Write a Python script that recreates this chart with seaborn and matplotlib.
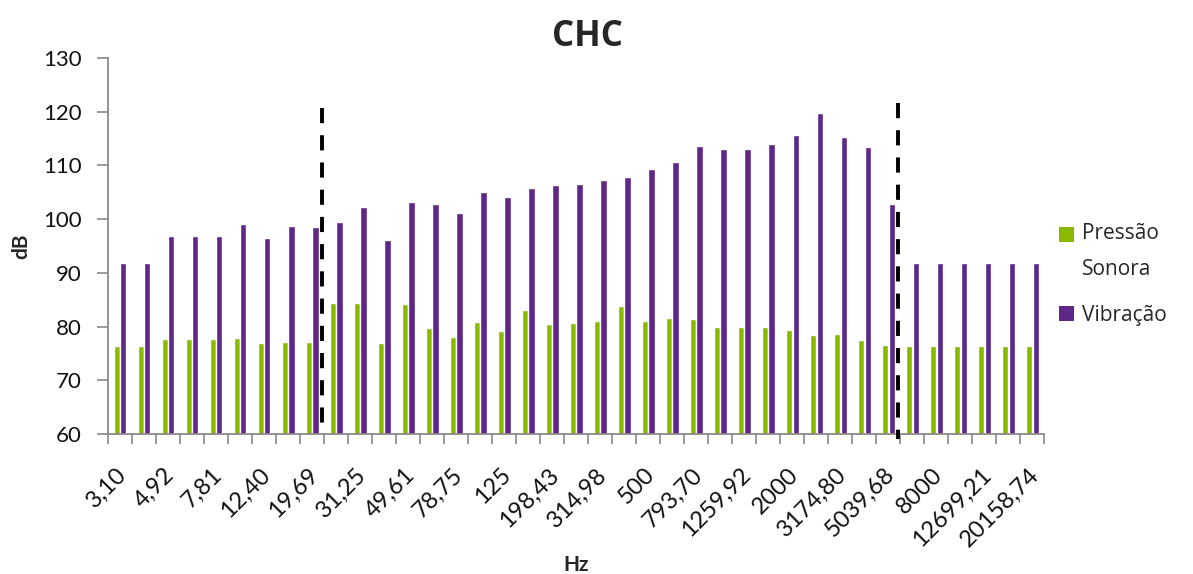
import matplotlib
matplotlib.use("Agg")
import matplotlib.pyplot as plt
import seaborn as sns
import pandas as pd
from matplotlib.patches import Patch, Rectangle
from matplotlib.legend_handler import HandlerPatch
from matplotlib.transforms import ScaledTranslation

freq_labels = ["3,10", "3,91", "4,92", "6,20", "7,81", "9,84", "12,40", "15,62", "19,69",
               "24,80", "31,25", "39,37", "49,61", "62,50", "78,75", "99,21", "125", "157,49",
               "198,43", "250", "314,98", "396,85", "500", "629,96", "793,70", "1000", "1259,92",
               "1587,40", "2000", "2519,84", "3174,80", "4000", "5039,68", "6349,60", "8000",
               "10079,37", "12699,21", "16000", "20158,74"]

pressao = [76.4, 76.4, 77.6, 77.6, 77.6, 77.9, 76.9, 77.1, 77.1,
           84.3, 84.3, 76.9, 84.2, 79.7, 78.1, 80.9, 79.1, 83.1, 80.4, 80.6,
           81.0, 83.8, 81.0, 81.5, 81.4, 79.9, 79.9, 80.0, 79.3, 78.4, 78.7, 77.4, 76.5,
           76.4, 76.4, 76.4, 76.4, 76.4, 76.4]

vibracao = [91.9, 91.9, 96.9, 96.9, 96.9, 99.0, 96.4, 98.7, 98.6,
            99.4, 102.3, 96.1, 103.1, 102.9, 101.2, 105.1, 104.1, 105.7, 106.4, 106.6,
            107.2, 107.8, 109.4, 110.7, 113.7, 113.0, 113.0, 113.9, 115.7, 119.7, 115.3, 113.4, 102.9,
            91.9, 91.9, 91.9, 91.9, 91.9, 91.9]

series_names = ["Pressão Sonora", "Vibração"]
legend_labels = ["Pressão\nSonora", "Vibração"]
colors = ["#8AB800", "#5F2788"]
yticks = [60, 70, 80, 90, 100, 110, 120, 130]
divider_x = [8.4, 32.4]

df = pd.DataFrame({
    "Hz": freq_labels * 2,
    "dB": pressao + vibracao,
    "serie": [series_names[0]] * len(freq_labels) + [series_names[1]] * len(freq_labels),
})

sns.set_theme(style="white")
plt.rcParams["font.family"] = ["Lato", "DejaVu Sans"]

fig = plt.figure(figsize=(11.93, 5.74), dpi=100)
ax = fig.add_axes([0.0905, 0.244, 0.785, 0.655])

sns.barplot(data=df, x="Hz", y="dB", hue="serie", order=freq_labels,
            hue_order=series_names, palette=colors, width=0.55, gap=0.05,
            saturation=1, ax=ax, legend=False)

n = len(freq_labels)
ax.set_xlim(-0.5, n - 0.5)
ax.set_ylim(60, 130)
ax.set_yticks(yticks)
ax.set_yticklabels([str(v) for v in yticks], fontsize=16, color="#111111")
ax.tick_params(axis="y", which="major", direction="out", length=8, width=1.2,
               color="#8a8a8a", left=True, pad=11)

ax.set_xticks(list(range(0, n, 2)))
ax.set_xticklabels([freq_labels[i] for i in range(0, n, 2)], rotation=45,
                   ha="right", va="center", rotation_mode="anchor",
                   fontsize=17, color="#111111")
ax.set_xticks([i - 0.5 for i in range(n + 1)], minor=True)
ax.tick_params(axis="x", which="major", length=0, pad=27)
ax.tick_params(axis="x", which="minor", direction="out", length=7, width=1.2,
               color="#8a8a8a", bottom=True)
shift = ScaledTranslation(3 / 100, 0, fig.dpi_scale_trans)
for lbl in ax.get_xticklabels():
    lbl.set_transform(lbl.get_transform() + shift)

for s in ["top", "right"]:
    ax.spines[s].set_visible(False)
for s in ["left", "bottom"]:
    ax.spines[s].set_color("#8a8a8a")
    ax.spines[s].set_linewidth(1.3)

ax.set_xlabel("Hz", fontsize=15, fontweight="bold")
ax.set_ylabel("dB", fontsize=15, fontweight="bold")
ax.xaxis.set_label_coords(0.5, -0.322)
ax.yaxis.set_label_coords(-0.082, 0.5)
fig.text(0.492, 0.936, "CHC", fontsize=25, fontweight="bold", ha="center", va="center",
         fontfamily=["Open Sans", "DejaVu Sans"])

ax.plot([divider_x[0], divider_x[0]], [120.6, 60], color="black", lw=2.8,
        linestyle=(0, (3.9, 3.1)), clip_on=False, zorder=5)
ax.plot([divider_x[1], divider_x[1]], [121.6, 59], color="black", lw=2.8,
        linestyle=(0, (3.9, 3.1)), clip_on=False, zorder=5)


def top_square(legend, orig_handle, xdescent, ydescent, width, height, fontsize):
    # square aligned with the first line of the label
    lift = 0.85 * fontsize if "\n" in str(orig_handle.get_label()) else 0.0
    return Rectangle((-xdescent, -ydescent + lift), width, height)


handles = [Patch(facecolor=c, edgecolor="none", label=l) for c, l in zip(colors, legend_labels)]
leg = fig.legend(handles, legend_labels, loc="center left", bbox_to_anchor=(0.872, 0.522),
                 frameon=False, handlelength=0.72, handleheight=0.72,
                 handletextpad=0.4, labelspacing=1.2,
                 handler_map={Patch: HandlerPatch(patch_func=top_square)},
                 prop={"family": ["Open Sans", "DejaVu Sans"], "size": 15})
for t in leg.get_texts():
    t.set_linespacing(1.9)

fig.savefig("out.png", dpi=100)
